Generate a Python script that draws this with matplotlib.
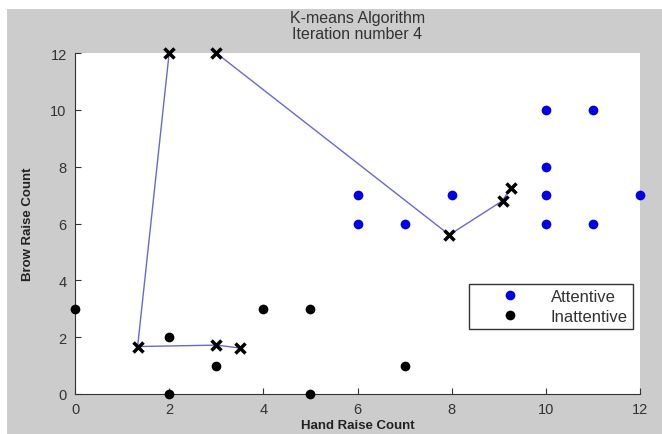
import matplotlib.pyplot as plt
from matplotlib.patches import Rectangle

# data points
att_x = [6, 6, 7, 8, 10, 10, 10, 10, 11, 11, 12]
att_y = [7, 6, 6, 7, 10, 8, 7, 6, 10, 6, 7]
inatt_x = [0, 2, 2, 3, 4, 5, 5, 7]
inatt_y = [3, 2, 0, 1, 3, 3, 0, 1]

# centroid paths over the iterations
c1_x = [2.0, 1.33, 3.0, 3.5]
c1_y = [12.0, 1.67, 1.72, 1.62]
c2_x = [3.0, 7.95, 9.08, 9.25]
c2_y = [12.0, 5.6, 6.8, 7.25]

plt.rcParams['font.family'] = ['Liberation Sans', 'DejaVu Sans']

fig = plt.figure(figsize=(6.62, 4.35), dpi=100, facecolor='white')
fig.patches.append(Rectangle((7/662, 0), 1, 1 - 10/435, transform=fig.transFigure,
                             facecolor='#cccccc', edgecolor='none', zorder=-10))

ax = fig.add_axes([75/662, 1 - 395/435, 565/662, 341/435])
ax.set_facecolor('white')

line_col = '#6868d4'
ax.plot(c1_x, c1_y, color=line_col, lw=1, zorder=2)
ax.plot(c2_x, c2_y, color=line_col, lw=1, zorder=2)

ax.plot(att_x, att_y, 'o', color='#0000e0', ms=7, mec='none', label='Attentive', zorder=3, clip_on=False)
ax.plot(inatt_x, inatt_y, 'o', color='black', ms=7, mec='none', label='Inattentive', zorder=3, clip_on=False)

ax.plot(c1_x, c1_y, 'x', color='black', ms=7, mew=2.5, zorder=4, clip_on=False)
ax.plot(c2_x, c2_y, 'x', color='black', ms=7, mew=2.5, zorder=4, clip_on=False)

ax.set_xlim(0, 12)
ax.set_ylim(0, 12)
ax.set_xticks(range(0, 13, 2))
ax.set_yticks(range(0, 13, 2))
ax.spines['top'].set_visible(False)
ax.spines['right'].set_visible(False)
ax.spines['left'].set_color('#333333')
ax.spines['bottom'].set_color('#333333')
ax.tick_params(direction='in', length=4, colors='#333333', labelsize=10.5, pad=6)

ax.set_xlabel('Hand Raise Count', fontsize=9.5, fontweight='bold', color='#222222', labelpad=2)
ax.set_ylabel('Brow Raise Count', fontsize=9.5, fontweight='bold', color='#222222', labelpad=12)
ax.set_title('K-means Algorithm\nIteration number 4', fontsize=11.5, color='#333333', pad=11, linespacing=1.05)

leg = ax.legend(loc='lower right', bbox_to_anchor=(0.987, 0.19), fancybox=False, framealpha=1,
                edgecolor='#333333', fontsize=12, handletextpad=0.3, borderpad=0.3,
                labelspacing=0.3, handlelength=4.3, borderaxespad=0)
leg.get_frame().set_linewidth(1)
for t in leg.get_texts():
    t.set_color('#333333')

plt.savefig('out.png', dpi=100, facecolor=fig.get_facecolor())
